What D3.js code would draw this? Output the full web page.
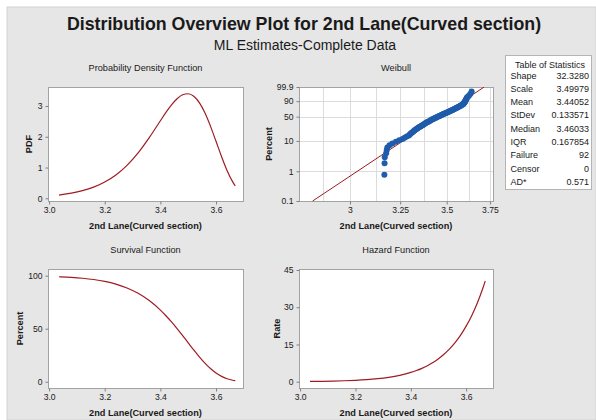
<!DOCTYPE html>
<html>
<head>
<meta charset="utf-8">
<script src="https://cdn.jsdelivr.net/npm/d3@7"></script>
<style>
  body { margin: 0; background: #fff; }
  text { font-family: "Liberation Sans", Arial, sans-serif; fill: #1a1a1a; }
</style>
</head>
<body>
<svg id="chart" width="596" height="420"></svg>
<script>
const xGrid = [3.0356, 3.04, 3.08, 3.12, 3.16, 3.20, 3.24, 3.28, 3.32, 3.36, 3.40, 3.42, 3.44,
  3.46, 3.48, 3.50, 3.52, 3.54, 3.56, 3.58, 3.60, 3.62, 3.64, 3.66, 3.6691]
const pdfValues = [0.106, 0.111, 0.166, 0.247, 0.363, 0.529, 0.759, 1.071, 1.476, 1.971, 2.520,
  2.791, 3.036, 3.235, 3.364, 3.398, 3.317, 3.109, 2.778, 2.346, 1.853, 1.353, 0.899, 0.535, 0.406]
const survivalValues = [99.0, 98.95, 98.41, 97.59, 96.39, 94.62, 92.07, 88.44, 83.38, 76.51, 67.54,
  62.22, 56.39, 50.11, 43.50, 36.72, 29.98, 23.53, 17.63, 12.49, 8.28, 5.08, 2.84, 1.43, 1.0]
const hazardValues = [0.107, 0.112, 0.169, 0.253, 0.377, 0.559, 0.824, 1.211, 1.770, 2.576, 3.732,
  4.485, 5.384, 6.456, 7.734, 9.255, 11.063, 13.212, 15.762, 18.786, 22.368, 26.608, 31.620, 37.542, 40.58]

// observed values on the Weibull probability plot (92 failures, sorted)
const lifeData = [3.169, 3.170, 3.171, 3.178, 3.181, 3.184, 3.195, 3.210, 3.228, 3.245,
  3.262, 3.273, 3.284, 3.295, 3.300, 3.305, 3.310, 3.316, 3.321, 3.326,
  3.331, 3.336, 3.341, 3.346, 3.351, 3.357, 3.362, 3.367, 3.372, 3.376,
  3.381, 3.385, 3.390, 3.394, 3.399, 3.403, 3.408, 3.412, 3.417, 3.421,
  3.426, 3.430, 3.435, 3.440, 3.444, 3.449, 3.454, 3.459, 3.463, 3.468,
  3.473, 3.477, 3.482, 3.487, 3.491, 3.496, 3.501, 3.506, 3.510, 3.515,
  3.519, 3.524, 3.528, 3.533, 3.537, 3.541, 3.546, 3.550, 3.555, 3.559,
  3.563, 3.568, 3.572, 3.577, 3.581, 3.585, 3.590, 3.594, 3.596, 3.598,
  3.600, 3.602, 3.604, 3.606, 3.608, 3.610, 3.612, 3.614, 3.619, 3.626,
  3.634, 3.642]
// fitted line end points on the probability plot
const fitLineX = [2.8265, 3.7153]
const fitLinePct = [0.1, 99.9]

const xTicks = [3.0, 3.2, 3.4, 3.6]
const pdfTicks = [0, 1, 2, 3]
const survivalTicks = [0, 50, 100]
const hazardTicks = [0, 15, 30, 45]
const percentTicks = [0.1, 1, 10, 50, 90, 99.9]
const weibullXTicks = [3, 3.25, 3.5, 3.75]
const weibullGridX = [2.875, 3, 3.125, 3.25, 3.375, 3.5, 3.625, 3.75]
const weibullGridPct = [1, 10, 50, 90]

const statLabels = ['Shape', 'Scale', 'Mean', 'StDev', 'Median', 'IQR', 'Failure', 'Censor', 'AD*']
const statValues = ['32.3280', '3.49979', '3.44052', '0.133571', '3.46033', '0.167854', '92', '0', '0.571']

const svg = d3.select('#chart')
const curveColor = '#9e1c22'
const pointColor = '#1f5cab'
const frameColor = '#a3a3a3'
const xLabel = '2nd Lane(Curved section)'

// grey page with a thin white margin on the top and left
svg.append('rect').attr('x', 7).attr('y', 7).attr('width', 589).attr('height', 413)
  .attr('fill', '#e6e6e6').attr('stroke', '#d2d2d2')

svg.append('text').attr('x', 304).attr('y', 30).attr('text-anchor', 'middle')
  .style('font-size', '17.8px').style('font-weight', 'bold')
  .text('Distribution Overview Plot for 2nd Lane(Curved section)')
svg.append('text').attr('x', 305).attr('y', 50).attr('text-anchor', 'middle')
  .style('font-size', '14px')
  .text('ML Estimates-Complete Data')

// frame: plot area, title, axis titles
function frame(box, title, yTitle, yTitleX) {
  const g = svg.append('g')
  g.append('rect').attr('x', box.x + 0.5).attr('y', box.y + 0.5)
    .attr('width', box.w).attr('height', box.h)
    .attr('fill', '#fff').attr('stroke', frameColor)
  g.append('text').attr('x', box.x + box.w / 2).attr('y', box.y - 16)
    .attr('text-anchor', 'middle').style('font-size', '9.2px').text(title)
  g.append('text').attr('x', box.x + box.w / 2).attr('y', box.y + box.h + 28)
    .attr('text-anchor', 'middle').style('font-size', '9.2px').style('font-weight', 'bold')
    .text(xLabel)
  g.append('text')
    .attr('transform', `translate(${yTitleX},${box.y + box.h / 2}) rotate(-90)`)
    .attr('text-anchor', 'middle').attr('dy', '0.35em')
    .style('font-size', '9.2px').style('font-weight', 'bold').text(yTitle)
  return g
}

function styleAxis(sel) {
  sel.select('.domain').remove()
  sel.selectAll('line').attr('stroke', '#808080')
  sel.selectAll('text').style('font-size', '8.6px').style('font-family', '"Liberation Sans", Arial, sans-serif')
    .attr('fill', '#1a1a1a')
}

function clipFor(box, id) {
  svg.append('clipPath').attr('id', id).append('rect')
    .attr('x', box.x).attr('y', box.y).attr('width', box.w + 1).attr('height', box.h + 1)
  return `url(#${id})`
}

// three function panels share the same x range
function functionPanel(box, title, yTitle, yTitleX, values, yDomain, yTicks, id) {
  const g = frame(box, title, yTitle, yTitleX)
  const x = d3.scaleLinear().domain([2.996, 3.697]).range([box.x, box.x + box.w])
  const y = d3.scaleLinear().domain(yDomain).range([box.y + box.h, box.y])
  g.append('g').attr('transform', `translate(0,${box.y + box.h + 0.5})`)
    .call(d3.axisBottom(x).tickValues(xTicks).tickFormat(d3.format('.1f')).tickSizeInner(3).tickSizeOuter(0).tickPadding(2))
    .call(styleAxis)
  g.append('g').attr('transform', `translate(${box.x + 0.5},0)`)
    .call(d3.axisLeft(y).tickValues(yTicks).tickFormat(d => String(d)).tickSizeInner(3).tickSizeOuter(0).tickPadding(3))
    .call(styleAxis)
  const line = d3.line().x((d, i) => x(xGrid[i])).y(d => y(d)).curve(d3.curveMonotoneX)
  g.append('path').datum(values).attr('d', line).attr('fill', 'none')
    .attr('stroke', curveColor).attr('stroke-width', 1.2).attr('clip-path', clipFor(box, id))
}

const boxTL = { x: 48, y: 87, w: 195, h: 114 }
const boxTR = { x: 299, y: 87, w: 194, h: 114 }
const boxBL = { x: 48, y: 269, w: 195, h: 119 }
const boxBR = { x: 299, y: 269, w: 194, h: 119 }

functionPanel(boxTL, 'Probability Density Function', 'PDF', 29, pdfValues, [-0.088, 3.618], pdfTicks, 'c1')
functionPanel(boxBL, 'Survival Function', 'Percent', 20, survivalValues, [-5.9, 106.3], survivalTicks, 'c3')
functionPanel(boxBR, 'Hazard Function', 'Rate', 277, hazardValues, [-2.54, 45.4], hazardTicks, 'c4')

// Weibull probability plot: log x, log(-log(1-p)) y
{
  const box = boxTR
  const g = frame(box, 'Weibull', 'Percent', 269)
  const x = d3.scaleLog().domain([2.7658, 3.7681]).range([box.x, box.x + box.w])
  const toW = p => Math.log(-Math.log(1 - p / 100))
  const w = d3.scaleLinear().domain([toW(0.1), toW(99.9)]).range([box.y + box.h, box.y])
  const y = p => w(toW(p))

  const grid = g.append('g').attr('stroke', '#dcdcdc').attr('stroke-width', 1)
  grid.selectAll('line.gx').data(weibullGridX).join('line')
    .attr('x1', d => Math.round(x(d)) + 0.5).attr('x2', d => Math.round(x(d)) + 0.5)
    .attr('y1', box.y + 1).attr('y2', box.y + box.h)
  grid.selectAll('line.gy').data(weibullGridPct).join('line')
    .attr('y1', d => Math.round(y(d)) + 0.5).attr('y2', d => Math.round(y(d)) + 0.5)
    .attr('x1', box.x + 1).attr('x2', box.x + box.w)

  g.append('g').attr('transform', `translate(0,${box.y + box.h + 0.5})`)
    .call(d3.axisBottom(x).tickValues(weibullXTicks).tickFormat(d => String(d)).tickSizeInner(3).tickSizeOuter(0).tickPadding(2))
    .call(styleAxis)
  g.append('g').attr('transform', `translate(${box.x + 0.5},0)`)
    .call(d3.axisLeft(w).tickValues(percentTicks.map(toW)).tickFormat((d, i) => String(percentTicks[i]))
      .tickSizeInner(3).tickSizeOuter(0).tickPadding(3))
    .call(styleAxis)

  const clip = clipFor(box, 'c2')
  g.append('line').attr('clip-path', clip)
    .attr('x1', x(fitLineX[0])).attr('y1', y(fitLinePct[0]))
    .attr('x2', x(fitLineX[1])).attr('y2', y(fitLinePct[1]))
    .attr('stroke', curveColor).attr('stroke-width', 1)

  const n = lifeData.length
  g.append('g').attr('clip-path', clip).selectAll('circle').data(lifeData).join('circle')
    .attr('cx', d => x(d))
    .attr('cy', (d, i) => y(100 * (i + 1 - 0.3) / (n + 0.4)))
    .attr('r', 3).attr('fill', pointColor)
}

// table of statistics
{
  const g = svg.append('g')
  g.append('rect').attr('x', 505.5).attr('y', 55.5).attr('width', 86).attr('height', 134)
    .attr('fill', '#fff').attr('stroke', '#b4b4b4')
  g.append('text').attr('x', 550).attr('y', 68).attr('text-anchor', 'middle')
    .style('font-size', '9px').text('Table of Statistics')
  g.selectAll('text.lab').data(statLabels).join('text').attr('class', 'lab')
    .attr('x', 510.5).attr('y', (d, i) => 78.5 + i * 13.3).style('font-size', '9px').text(d => d)
  g.selectAll('text.val').data(statValues).join('text').attr('class', 'val')
    .attr('x', 589).attr('y', (d, i) => 78.5 + i * 13.3).attr('text-anchor', 'end')
    .style('font-size', '9px').text(d => d)
}
</script>
</body>
</html>
